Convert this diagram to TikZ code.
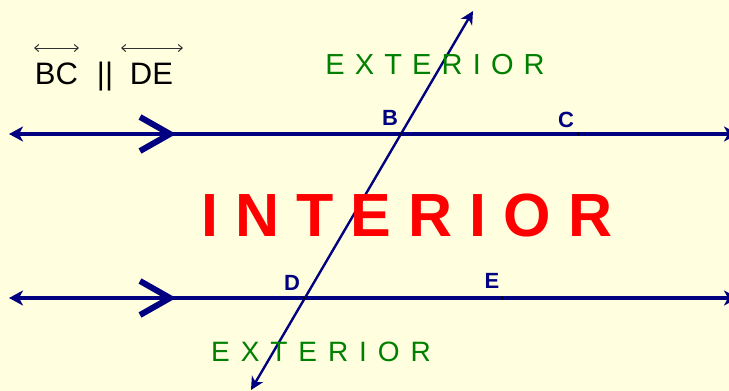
\documentclass[tikz,border=0pt]{standalone}
\usepackage{fontspec}
\setmainfont{Liberation Sans}
\usetikzlibrary{arrows.meta}
\definecolor{bg}{HTML}{FFFFE0}
\definecolor{navyline}{HTML}{000080}
\definecolor{extgreen}{HTML}{008000}
\definecolor{intred}{HTML}{FF0000}
\definecolor{notegray}{HTML}{303030}
\begin{document}
\begin{tikzpicture}[x=1pt,y=-1pt,
  tipA/.tip={Stealth[length=14pt,width=15pt,inset=4pt]},
  tipB/.tip={Stealth[length=13pt,width=13pt,inset=4pt]},
  parline/.style={navyline, line width=3.5pt, tipA-tipA},
  transv/.style={navyline, line width=2.4pt, tipB-tipB},
  chevron/.style={navyline, line width=6pt, miter limit=10},
  ptlabel/.style={navyline, inner sep=0pt, font=\bfseries\fontsize{22}{22}\selectfont},
  regiontext/.style={extgreen, inner sep=0pt, font=\fontsize{29}{29}\selectfont\addfontfeature{LetterSpace=35}},
  inttext/.style={intred, inner sep=0pt, font=\bfseries\fontsize{61}{61}\selectfont\addfontfeature{LetterSpace=28}},
  notetext/.style={black, inner sep=0pt, font=\fontsize{31}{31}\selectfont},
  overarrow/.style={notegray, line width=1pt, {Straight Barb[length=4pt,width=7pt]}-{Straight Barb[length=4pt,width=7pt]}},
  ptdot/.style={black, fill, inner sep=0pt, minimum size=3pt, circle}
]
\fill[bg] (0,0) rectangle (729,391);
\useasboundingbox (0,0) rectangle (729,391);
\clip (0,0) rectangle (729,391);

% coordinates
\coordinate (L1) at (9,134);
\coordinate (R1) at (738,134);
\coordinate (L2) at (9,298);
\coordinate (R2) at (738,298);
\coordinate (T1) at (473,11);
\coordinate (T2) at (251,390);

% parallel lines
\draw[parline] (L1) -- (R1);
\draw[parline] (L2) -- (R2);
% chevrons
\draw[chevron] (140,117) -- (170,134) -- (140,151);
\draw[chevron] (140,281) -- (170,298) -- (140,315);

% transversal
\draw[transv] (T1) -- (T2);

% points
\node[ptdot] (B) at (400,134) {};
\node[ptdot] (C) at (578,134) {};
\node[ptdot] (D) at (304,298) {};
\node[ptdot] (E) at (502,298) {};

% point labels
\node[ptlabel] (lB) at (390,118) {B};
\node[ptlabel] (lC) at (566,120) {C};
\node[ptlabel] (lD) at (292,283) {D};
\node[ptlabel] (lE) at (492,281) {E};

% region texts
\node[regiontext] (ext1) at (435,64.5) {EXTERIOR};
\node[inttext] (int) at (407,215) {INTERIOR};
\node[regiontext, font=\fontsize{28}{28}\selectfont\addfontfeature{LetterSpace=39}] (ext2) at (321,352) {EXTERIOR};

% note
\node[notetext] (nBC) at (56.5,73.5) {BC};
\node[notetext] (npar) at (105,77) {||};
\node[notetext] (nDE) at (151.5,73.5) {DE};
\draw[overarrow] (34,48) -- (79,48);
\draw[overarrow] (121,48) -- (183,48);
\end{tikzpicture}
\end{document}
